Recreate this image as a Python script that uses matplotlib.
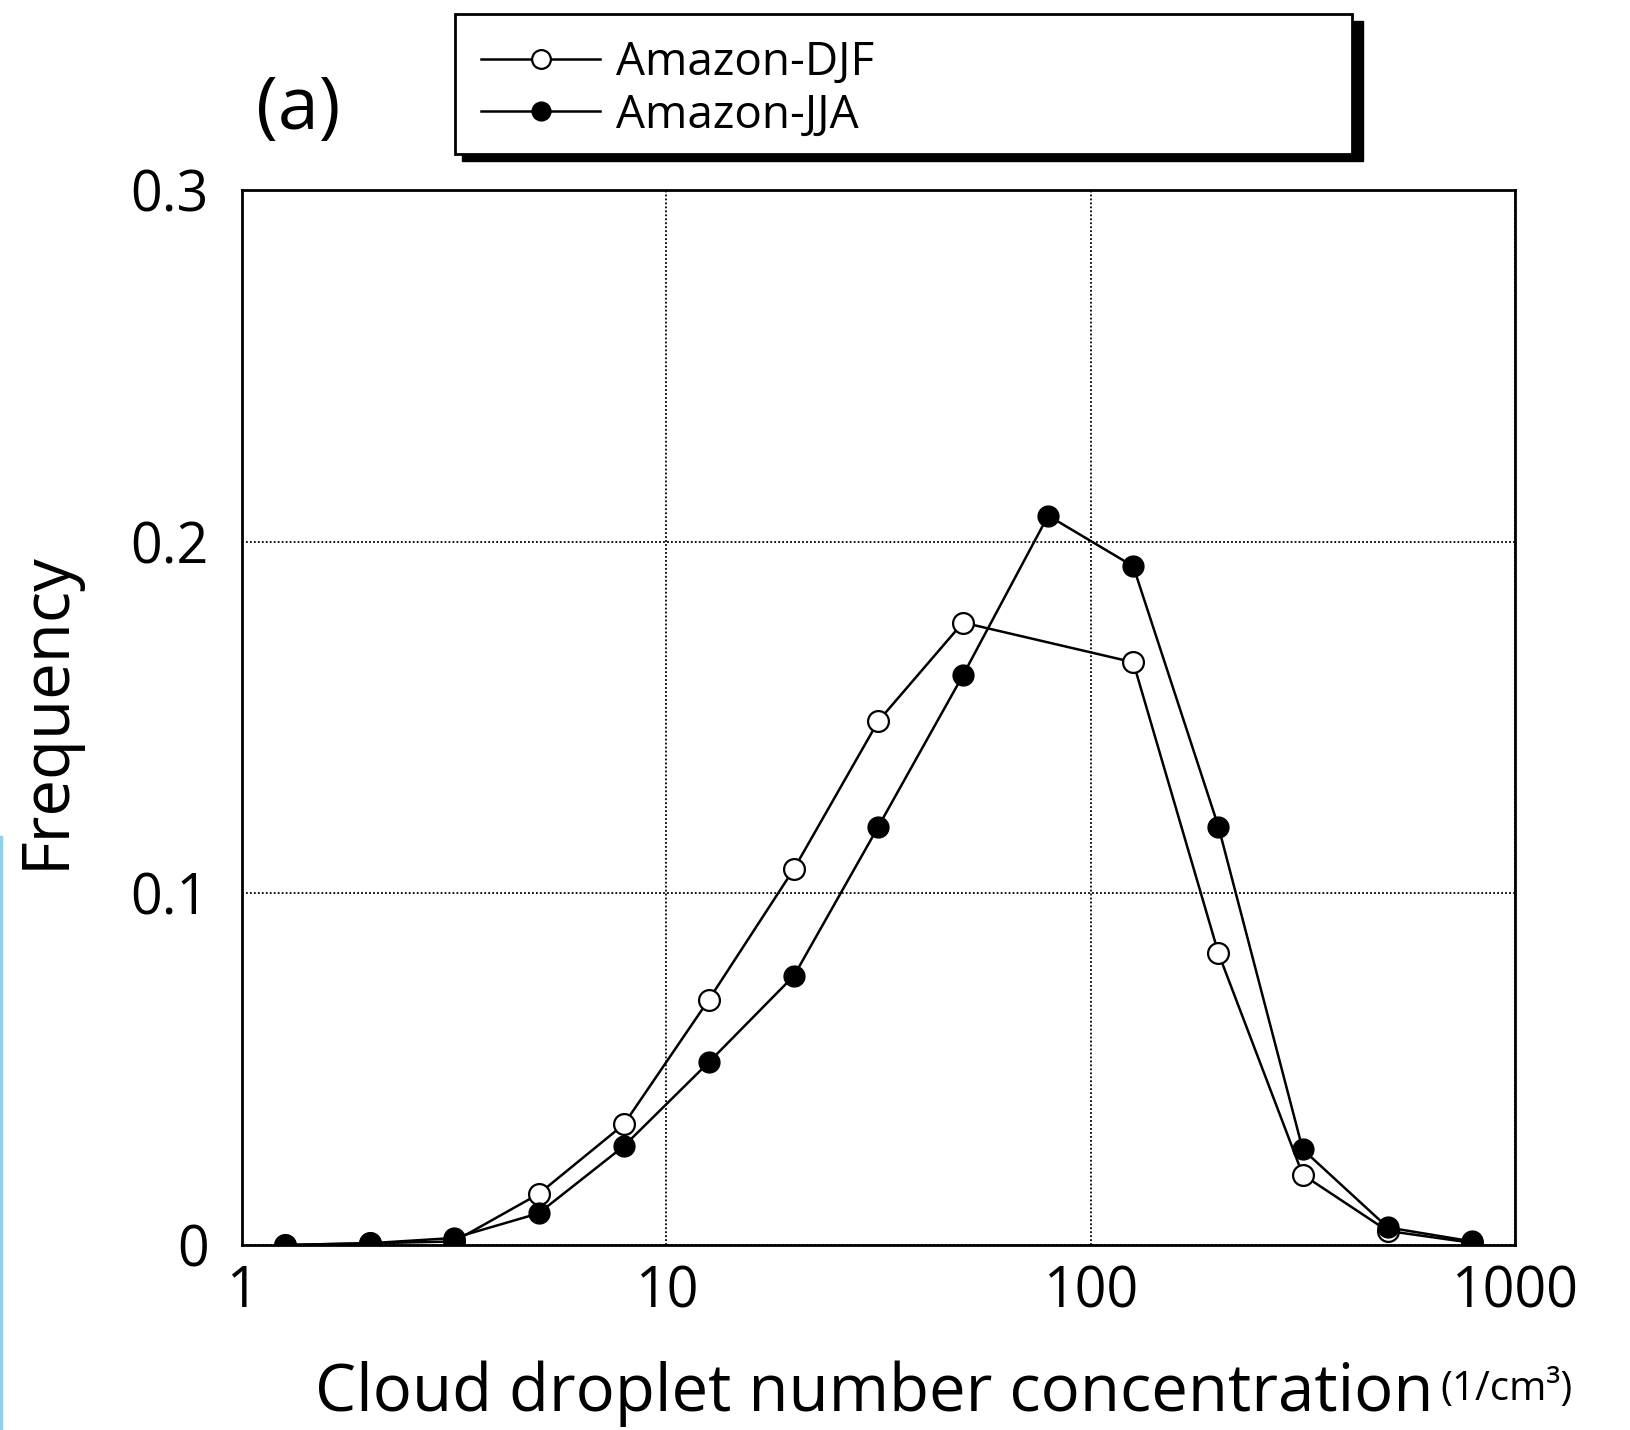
import matplotlib
matplotlib.use("Agg")
import matplotlib.pyplot as plt
from matplotlib.patches import Rectangle
from matplotlib.lines import Line2D

plt.rcParams['font.family'] = ['Open Sans', 'DejaVu Sans']

# bin centres (1/cm3), log-spaced
conc = [1.26, 2.0, 3.16, 5.0, 7.94, 12.6, 20.0, 31.6, 50.0, 79.4, 126, 200, 316, 501, 794]
djf_x = [1.26, 2.0, 3.16, 5.0, 7.94, 12.6, 20.0, 31.6, 50.0, 126, 200, 316, 501, 794]
djf = [0.0, 0.0005, 0.001, 0.0145, 0.0343, 0.0698, 0.107, 0.149, 0.177, 0.1657, 0.083, 0.020, 0.004, 0.0006]
jja = [0.0, 0.0005, 0.002, 0.009, 0.0281, 0.052, 0.0766, 0.119, 0.162, 0.2074, 0.193, 0.119, 0.0272, 0.005, 0.001]

W, H = 1631, 1430
fig = plt.figure(figsize=(W / 100, H / 100), dpi=100)
ax = fig.add_axes([242 / W, 1 - 1245 / H, (1515 - 242) / W, (1245 - 190) / H])

l1, = ax.plot(djf_x, djf, '-o', color='black', lw=1.8, ms=15, mfc='white', mec='black', mew=1.6)
l2, = ax.plot(conc, jja, '-o', color='black', lw=1.8, ms=15, mfc='black', mec='black')

ax.set_xscale('log')
ax.set_xlim(1, 1000)
ax.set_ylim(0, 0.3)
ax.set_xticks([1, 10, 100, 1000])
ax.set_xticklabels(['1', '10', '100', '1000'])
ax.set_yticks([0, 0.1, 0.2, 0.3])
ax.set_yticklabels(['0', '0.1', '0.2', '0.3'])
ax.minorticks_off()
ax.tick_params(length=0, labelsize=40)
ax.tick_params(axis='x', pad=14)
ax.tick_params(axis='y', pad=24)
ax.grid(True, color='black', ls=(0, (1, 1.2)), lw=1.3)
for s in ax.spines.values():
    s.set_linewidth(2)

fig.text(874 / W, 1 - 1394 / H, 'Cloud droplet number concentration', fontsize=47,
         ha='center', va='center')
fig.text(1440 / W, 1 - 1390 / H, '(1/cm³)', fontsize=29, ha='left', va='center')
fig.text(47 / W, 1 - 710 / H, 'Frequency', fontsize=47, rotation=90, ha='center', va='center')
fig.text(298 / W, 1 - 110 / H, '(a)', fontsize=53, ha='center', va='center')

# legend box with hard shadow
fig.patches.append(Rectangle((462 / W, 1 - 161 / H), (1363 - 462) / W, (154 - 14) / H,
                             transform=fig.transFigure, facecolor='black', edgecolor='black'))
fig.patches.append(Rectangle((455 / W, 1 - 154 / H), (1352 - 455) / W, (154 - 14) / H,
                             transform=fig.transFigure, facecolor='white', edgecolor='black', lw=2))
fig.legend([l1, l2], ['Amazon-DJF', 'Amazon-JJA'], loc='upper left',
           bbox_to_anchor=(481 / W, 1 - 40 / H), frameon=False, fontsize=33,
           handlelength=2.6, handletextpad=0.35, labelspacing=0.14, borderaxespad=0,
           borderpad=0, markerscale=0.9)

# thin cyan edge on the left
fig.add_artist(Line2D([1 / W, 1 / W], [0, 1 - 837 / H], transform=fig.transFigure,
                      color='#86d4f0', lw=2.5))

fig.savefig('out.png', dpi=100, facecolor='white')
